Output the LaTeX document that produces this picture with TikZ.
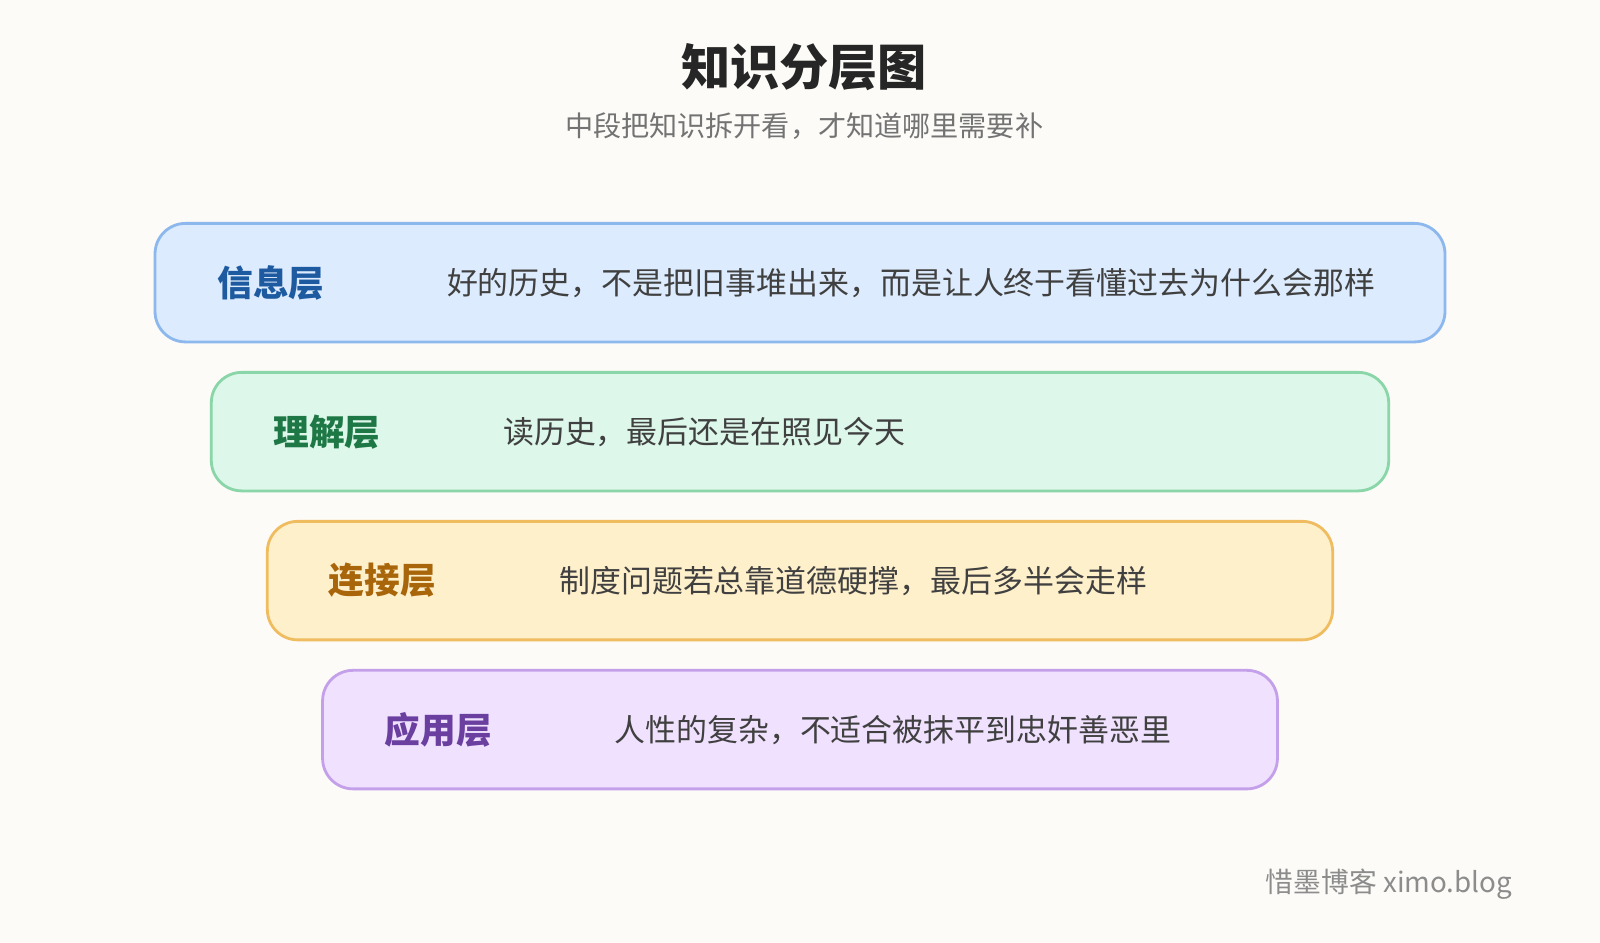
\documentclass[tikz,border=0pt]{standalone}
\usepackage{fontspec}
\setmainfont{Noto Sans CJK SC}
\usetikzlibrary{positioning}
\definecolor{bgcol}{HTML}{FCFBF7}
\definecolor{infofill}{HTML}{DCEBFD}\definecolor{infoline}{HTML}{8DB8EE}\definecolor{infotext}{HTML}{1E5AA0}
\definecolor{undfill}{HTML}{DDF7EA}\definecolor{undline}{HTML}{8AD6A8}\definecolor{undtext}{HTML}{1E7845}
\definecolor{confill}{HTML}{FFF0CC}\definecolor{conline}{HTML}{F0BC60}\definecolor{context}{HTML}{A8650A}
\definecolor{appfill}{HTML}{F0E2FF}\definecolor{appline}{HTML}{C4A0EA}\definecolor{apptext}{HTML}{6A3FA0}
\tikzset{
  layer/.style={draw=#1line, fill=#1fill, line width=1.6pt, rounded corners=0.61cm, minimum height=2.37cm, inner sep=0pt},
  lname/.style={text=#1text, font=\fontsize{20.3}{23}\selectfont\bfseries, anchor=west},
  ltext/.style={text=black!75, font=\fontsize{17.6}{20}\selectfont, anchor=west}
}
\begin{document}
\begin{tikzpicture}[x=0.0204cm,y=-0.0204cm]
\fill[bgcol] (0,0) rectangle (1568,924);
\node[font=\fontsize{28}{32}\selectfont\bfseries, text=black!85] (title) at (788,66) {知识分层图};
\node[font=\fontsize{16}{19}\selectfont, text=black!55] (sub) at (788,124) {中段把知识拆开看，才知道哪里需要补};
% layers
\node[layer=info, minimum width=25.79cm] (b1) at (784,277) {};
\node[lname=info] (n1) at (207,277) {信息层};
\node[ltext] (t1) at (432,277) {好的历史，不是把旧事堆出来，而是让人终于看懂过去为什么会那样};
\node[layer=und, minimum width=23.54cm] (b2) at (784,423) {};
\node[lname=und] (n2) at (262,423) {理解层};
\node[ltext] (t2) at (487,423) {读历史，最后还是在照见今天};
\node[layer=con, minimum width=21.30cm] (b3) at (784,569) {};
\node[lname=con] (n3) at (316,569) {连接层};
\node[ltext] (t3) at (542,569) {制度问题若总靠道德硬撑，最后多半会走样};
\node[layer=app, minimum width=19.09cm] (b4) at (784,715) {};
\node[lname=app] (n4) at (371,715) {应用层};
\node[ltext] (t4) at (596,715) {人性的复杂，不适合被抹平到忠奸善恶里};
\node[anchor=east, text=black!45, font=\fontsize{15.8}{18}\selectfont] (mark) at (1488,866) {惜墨博客 ximo.blog};
\end{tikzpicture}
\end{document}
